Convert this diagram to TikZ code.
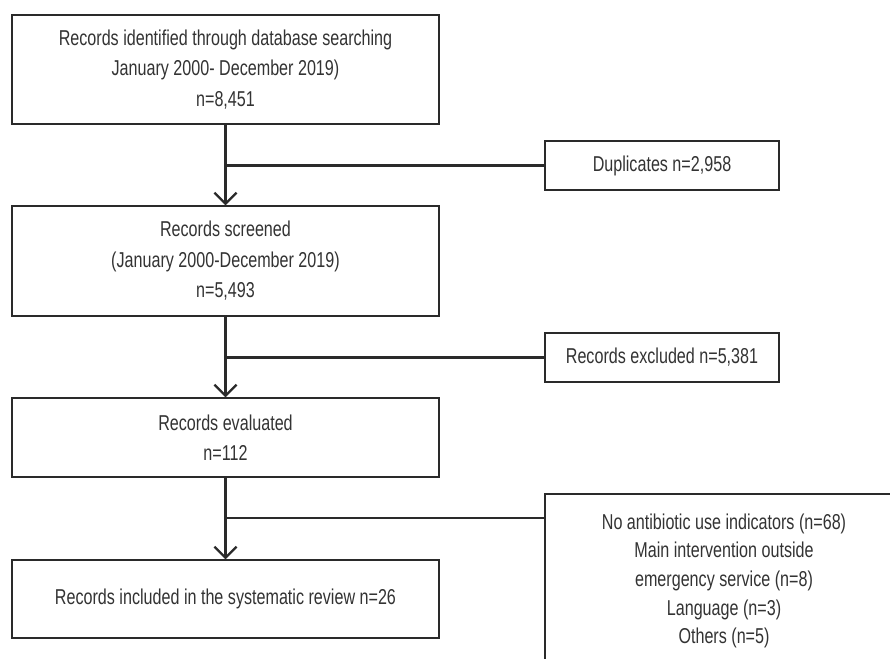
\documentclass[tikz,border=0pt]{standalone}
\usepackage{fontspec}
\setmainfont{Liberation Sans}[FakeStretch=0.75]
\usetikzlibrary{arrows.meta}
\definecolor{txt}{HTML}{333333}
\definecolor{ln}{HTML}{2A2A2A}
\begin{document}
\begin{tikzpicture}[x=1pt,y=-1pt,
  box/.style={draw=ln, line width=1.3pt, inner sep=0pt, align=center, text=txt,
    font={\fontsize{21.5}{30.5}\selectfont}},
  mainbox/.style={box, minimum width=427pt},
  sidebox/.style={box, minimum width=234pt, minimum height=49pt},
  conn/.style={draw=ln, line width=2.3pt},
  arr/.style={conn, -{Straight Barb[length=11pt,width=22pt,line width=2.3pt]}}]
\path[use as bounding box, clip] (0,0) rectangle (890,658);
\fill[white] (0,0) rectangle (890,658);
\node[mainbox, minimum height=109pt] (b1) at (225.5,69.5)
  {Records identified through database searching\\January 2000- December 2019)\\n=8,451};
\node[mainbox, minimum height=110pt] (b2) at (225.5,261)
  {Records screened\\(January 2000-December 2019)\\n=5,493};
\node[mainbox, minimum height=79pt] (b3) at (225.5,437.5)
  {Records evaluated\\n=112};
\node[mainbox, minimum height=78pt] (b4) at (225.5,599)
  {Records included in the systematic review n=26};
\node[sidebox] (d) at (662,165.5) {Duplicates n=2,958};
\node[sidebox] (e) at (662,357.5) {Records excluded n=5,381};
\node[box, minimum width=358pt, minimum height=174pt,
  font={\fontsize{21.5}{28.7}\selectfont}] (r) at (724,581)
  {No antibiotic use indicators (n=68)\\Main intervention outside\\emergency service (n=8)\\Language (n=3)\\Others (n=5)};
\draw[arr] (b1.south) -- (b2.north);
\draw[arr] (b2.south) -- (b3.north);
\draw[arr] (b3.south) -- (b4.north);
\draw[conn] (b1.south |- d.west) -- (d.west);
\draw[conn] (b2.south |- e.west) -- (e.west);
\coordinate (j3) at (225.5,518);
\draw[conn] (j3) -- (j3 -| r.west);
\end{tikzpicture}
\end{document}
